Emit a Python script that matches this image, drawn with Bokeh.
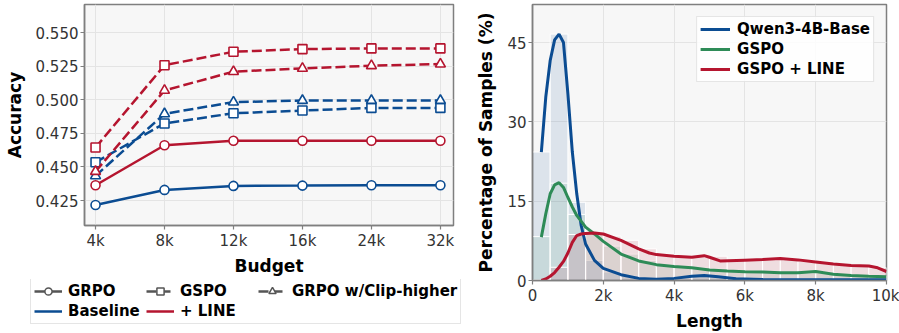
import numpy as np
from bokeh.plotting import figure
from bokeh.layouts import row, column
from bokeh.models import Range1d, FixedTicker, Legend, LegendItem, Column
from bokeh.embed import file_html
from bokeh.resources import INLINE

# ---------------- data: left panel ----------------
budgets = ["4k", "8k", "12k", "16k", "24k", "32k"]
grpo_base = [0.4217, 0.4329, 0.4359, 0.4361, 0.4364, 0.4364]
grpo_line = [0.4364, 0.4662, 0.4695, 0.4695, 0.4695, 0.4695]
gspo_base = [0.4535, 0.4824, 0.4900, 0.4920, 0.4940, 0.4940]
gspo_line = [0.4645, 0.5258, 0.5358, 0.5378, 0.5383, 0.5383]
clip_base = [0.4434, 0.4896, 0.4983, 0.4995, 0.4995, 0.4995]
clip_line = [0.4466, 0.5070, 0.5210, 0.5234, 0.5254, 0.5266]
acc_ticks = [0.425, 0.450, 0.475, 0.500, 0.525, 0.550]

# ---------------- data: right panel ----------------
bin_edges = [0, 500, 1000, 1500, 2000, 2500, 3000, 3500, 4000, 4500, 5000,
             5500, 6000, 6500, 7000, 7500, 8000, 8500, 9000, 9500, 10000]
qwen_hist = [24.3, 46.6, 14.8, 3.8, 1.6, 0.9, 0.5, 0.4, 0.5, 0.8, 0.9, 0.7,
             0.4, 0.3, 0.2, 0.2, 0.2, 0.2, 0.2, 0.2]
gspo_hist = [8.3, 18.4, 12.5, 9.0, 6.5, 5.0, 3.8, 3.0, 2.7, 2.5, 2.2, 1.9,
             1.7, 1.6, 1.5, 1.4, 1.6, 1.2, 1.0, 0.8]
line_hist = [0.1, 2.5, 8.7, 9.1, 8.4, 7.6, 6.0, 5.0, 4.6, 4.5, 4.6, 3.8,
             3.9, 3.9, 4.1, 3.8, 3.5, 3.0, 2.8, 2.4]

qwen_x = [250, 375, 500, 625, 750, 875, 1000, 1125, 1250, 1375, 1500, 1750,
          2000, 2500, 3000, 3500, 4000, 4500, 4850, 5250, 5750, 6500, 8000, 10000]
qwen_y = [24.3, 34.7, 41.6, 45.5, 46.6, 45.0, 35.3, 24.3, 16.4, 10.4, 6.9, 3.8,
          2.3, 1.1, 0.4, 0.25, 0.4, 0.8, 0.95, 0.7, 0.35, 0.2, 0.15, 0.15]
gspo_x = [250, 375, 500, 625, 750, 875, 1000, 1125, 1250, 1500, 1750, 2000,
          2500, 3000, 3500, 4000, 4500, 5000, 5500, 6000, 6500, 7000, 7500,
          8000, 8500, 9000, 9500, 10000]
gspo_y = [8.2, 12.6, 16.4, 18.1, 18.5, 17.6, 15.7, 13.9, 12.3, 10.1, 8.8, 7.4,
          5.0, 3.7, 3.0, 2.65, 2.4, 2.0, 1.8, 1.65, 1.6, 1.45, 1.45,
          1.7, 1.2, 0.95, 0.8, 0.7]
line_x = [250, 375, 500, 625, 750, 875, 1000, 1125, 1250, 1375, 1500, 1750,
          2000, 2500, 3000, 3300, 3500, 4000, 4500, 4850, 5000, 5300, 6000,
          6500, 7000, 7500, 8000, 8500, 9000, 9500, 9750, 10000]
line_y = [0.0, 0.3, 0.8, 1.5, 2.5, 3.6, 5.2, 7.2, 8.5, 8.8, 8.9, 9.0,
          8.8, 7.6, 6.0, 5.2, 4.9, 4.6, 4.4, 4.7, 4.4, 3.7, 3.85,
          3.95, 4.15, 3.9, 3.5, 3.1, 2.85, 2.75, 2.4, 1.7]
len_ticks = [0, 2000, 4000, 6000, 8000, 10000]
len_labels = ["0", "2k", "4k", "6k", "8k", "10k"]
pct_ticks = [0, 15, 30, 45]

BLUE = "#0b4c92"
RED = "#b5152f"
GREEN = "#2e8b57"
GRAY = "#555555"
FRAME = "#7f7f7f"
BG = "#f7f7f7"
FONT = "DejaVu Sans"


def style(p):
    p.background_fill_color = BG
    p.border_fill_color = "white"
    p.outline_line_color = FRAME
    p.outline_line_width = 1.5
    for ax in (p.xaxis, p.yaxis):
        ax.axis_line_color = FRAME
        ax.axis_line_width = 1.5
        ax.major_tick_line_color = FRAME
        ax.major_tick_line_width = 1.2
        ax.major_tick_out = 4
        ax.major_tick_in = 0
        ax.minor_tick_line_color = None
        ax.major_label_text_font = FONT
        ax.major_label_text_font_size = "15px"
        ax.major_label_text_color = "#333333"
        ax.major_label_standoff = 2
        ax.axis_label_text_font = FONT
        ax.axis_label_text_font_size = "17px"
        ax.axis_label_text_font_style = "bold"
        ax.axis_label_text_color = "black"
    p.grid.grid_line_color = "#e4e4e4"
    p.grid.grid_line_width = 1


# ---------------- left figure ----------------
xs = list(range(len(budgets)))
p1 = figure(width=470, height=279, output_backend="svg", toolbar_location=None,
            x_range=Range1d(-0.16, 5.19), y_range=Range1d(0.4064, 0.571),
            min_border_left=84, min_border_right=17, min_border_top=4,
            min_border_bottom=54)
style(p1)
p1.xaxis.ticker = FixedTicker(ticks=xs)
p1.xaxis.major_label_overrides = {i: b for i, b in enumerate(budgets)}
p1.yaxis.ticker = FixedTicker(ticks=acc_ticks)
p1.yaxis.major_label_overrides = {t: f"{t:.3f}" for t in acc_ticks}
p1.xaxis.axis_label = "Budget"
p1.yaxis.axis_label = "Accuracy"
p1.xaxis.axis_label_standoff = 3
p1.yaxis.axis_label_standoff = 8

series = [
    (grpo_base, BLUE, "solid", "circle"),
    (grpo_line, RED, "solid", "circle"),
    (gspo_base, BLUE, "10 4", "square"),
    (gspo_line, RED, "10 4", "square"),
    (clip_base, BLUE, "10 4", "triangle"),
    (clip_line, RED, "10 4", "triangle"),
]
for ys, col, dash, mk in series:
    p1.line(xs, ys, line_color=col, line_width=2.5, line_dash=dash)
    p1.scatter(xs, ys, marker=mk, size=9 if mk != "triangle" else 10,
               fill_color="white", line_color=col, line_width=1.6)

# ---------------- legend strip under the left figure ----------------
pl = figure(width=470, height=54, output_backend="svg", toolbar_location=None,
            x_range=Range1d(0, 1), y_range=Range1d(0, 1),
            x_axis_location=None, y_axis_location=None,
            min_border_left=0, min_border_right=0, min_border_top=0,
            min_border_bottom=0)
pl.grid.visible = False
pl.outline_line_color = None
pl.background_fill_color = "white"

def dummy_line(col, dash):
    return pl.line([-5, -4], [-5, -4], line_color=col, line_width=2.5, line_dash=dash)
def dummy_marker(mk):
    return pl.scatter([-5], [-5], marker=mk, fill_color="white",
                      line_color=GRAY, line_width=1.5)

items = [
    LegendItem(label="GRPO", renderers=[dummy_line(GRAY, "solid"), dummy_marker("circle")]),
    LegendItem(label="GSPO", renderers=[dummy_line(GRAY, "10 4"), dummy_marker("square")]),
    LegendItem(label="GRPO w/Clip-higher", renderers=[dummy_line(GRAY, "10 4"), dummy_marker("triangle")]),
    LegendItem(label="Baseline", renderers=[dummy_line(BLUE, "solid")]),
    LegendItem(label="+ LINE", renderers=[dummy_line(RED, "solid")]),
]
leg1 = Legend(items=items, orientation="horizontal", ncols=3,
              location=(30, 9), margin=0, padding=3, spacing=2,
              glyph_width=28, glyph_height=18, label_standoff=6,
              label_width=76, label_height=18,
              label_text_font=FONT, label_text_font_size="15px",
              label_text_font_style="bold", label_text_color="black",
              border_line_color="#cccccc", border_line_width=1,
              background_fill_color="white")
pl.add_layout(leg1, "center")

# ---------------- right figure ----------------
p2 = figure(width=429, height=333, output_backend="svg", toolbar_location=None,
            x_range=Range1d(0, 10000), y_range=Range1d(0, 52.2),
            min_border_left=62, min_border_right=13, min_border_top=4,
            min_border_bottom=52)
style(p2)
p2.xaxis.ticker = FixedTicker(ticks=len_ticks)
p2.xaxis.major_label_overrides = {t: l for t, l in zip(len_ticks, len_labels)}
p2.yaxis.ticker = FixedTicker(ticks=pct_ticks)
p2.xaxis.axis_label = "Length"
p2.yaxis.axis_label = "Percentage of Samples (%)"
p2.xaxis.axis_label_standoff = 3
p2.yaxis.axis_label_standoff = 8

lefts = bin_edges[:-1]
rights = bin_edges[1:]
for h, col in ((qwen_hist, BLUE), (gspo_hist, GREEN), (line_hist, RED)):
    p2.quad(left=lefts, right=rights, bottom=0, top=h, fill_color=col,
            fill_alpha=0.11, line_color="white", line_width=1)

r_q = p2.line(qwen_x, qwen_y, line_color=BLUE, line_width=3)
r_g = p2.line(gspo_x, gspo_y, line_color=GREEN, line_width=3)
r_l = p2.line(line_x, line_y, line_color=RED, line_width=3)

leg2 = Legend(items=[LegendItem(label="Qwen3-4B-Base", renderers=[r_q]),
                     LegendItem(label="GSPO", renderers=[r_g]),
                     LegendItem(label="GSPO + LINE", renderers=[r_l])],
              location="top_right", margin=12, padding=3, spacing=2,
              glyph_width=30, glyph_height=18, label_standoff=7,
              label_text_font=FONT, label_text_font_size="15px",
              label_text_font_style="bold", label_text_color="black",
              border_line_color="#cccccc", border_line_width=1,
              background_fill_color="white", background_fill_alpha=0.85)
p2.add_layout(leg2, "center")

layout = row(column(p1, Column(children=[pl])), p2)
open("out.html", "w").write(file_html(layout, INLINE))
